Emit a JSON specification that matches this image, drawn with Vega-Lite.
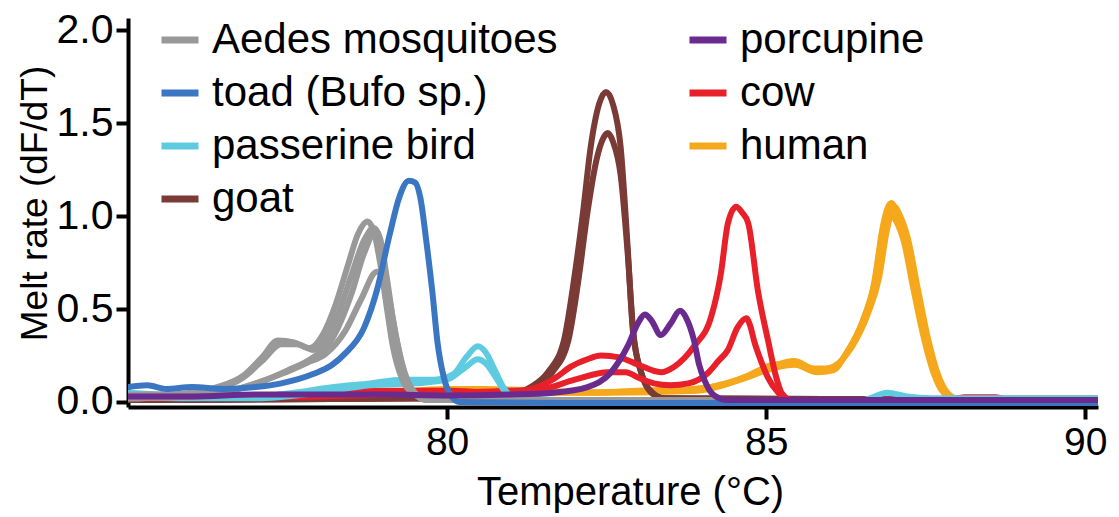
{
  "$schema": "https://vega.github.io/schema/vega-lite/v6.json",
  "width": 970,
  "height": 389,
  "autosize": {"type": "none"},
  "padding": {"left": 128, "top": 18, "right": 21, "bottom": 110},
  "background": "white",
  "config": {
    "view": {"stroke": null},
    "font": "Liberation Sans",
    "axis": {"labelFont": "Liberation Sans", "titleFont": "Liberation Sans", "labelColor": "black", "titleColor": "black", "titleFontWeight": "normal", "domainColor": "black", "tickColor": "black", "domainWidth": 4, "tickWidth": 4, "tickSize": 12, "grid": false},
    "legend": {"labelFont": "Liberation Sans"}
  },
  "data": {
    "values": [
      {"s":"human","r":"h1","t":75,"v":0.02},{"s":"human","r":"h1","t":77,"v":0.03},{"s":"human","r":"h1","t":79,"v":0.05},{"s":"human","r":"h1","t":80,"v":0.07},{"s":"human","r":"h1","t":80.6,"v":0.07},{"s":"human","r":"h1","t":81.5,"v":0.06},{"s":"human","r":"h1","t":82.3,"v":0.05},{"s":"human","r":"h1","t":83.35,"v":0.065},{"s":"human","r":"h1","t":83.85,"v":0.06},{"s":"human","r":"h1","t":84.25,"v":0.09},{"s":"human","r":"h1","t":84.65,"v":0.13},{"s":"human","r":"h1","t":85.08,"v":0.19},{"s":"human","r":"h1","t":85.44,"v":0.22},{"s":"human","r":"h1","t":85.75,"v":0.18},{"s":"human","r":"h1","t":86.02,"v":0.18},{"s":"human","r":"h1","t":86.29,"v":0.28},{"s":"human","r":"h1","t":86.54,"v":0.46},{"s":"human","r":"h1","t":86.7,"v":0.64},{"s":"human","r":"h1","t":86.81,"v":0.91},{"s":"human","r":"h1","t":86.96,"v":1.07},{"s":"human","r":"h1","t":87.05,"v":1.02},{"s":"human","r":"h1","t":87.17,"v":0.91},{"s":"human","r":"h1","t":87.32,"v":0.64},{"s":"human","r":"h1","t":87.48,"v":0.37},{"s":"human","r":"h1","t":87.64,"v":0.17},{"s":"human","r":"h1","t":87.79,"v":0.06},{"s":"human","r":"h1","t":87.95,"v":0.02},{"s":"human","r":"h1","t":90.2,"v":0.02},
      {"s":"human","r":"h2","t":75,"v":0.03},{"s":"human","r":"h2","t":78,"v":0.04},{"s":"human","r":"h2","t":80,"v":0.06},{"s":"human","r":"h2","t":81.5,"v":0.05},{"s":"human","r":"h2","t":83.4,"v":0.06},{"s":"human","r":"h2","t":84.3,"v":0.09},{"s":"human","r":"h2","t":84.7,"v":0.14},{"s":"human","r":"h2","t":85.1,"v":0.2},{"s":"human","r":"h2","t":85.46,"v":0.21},{"s":"human","r":"h2","t":85.8,"v":0.17},{"s":"human","r":"h2","t":86.05,"v":0.19},{"s":"human","r":"h2","t":86.35,"v":0.3},{"s":"human","r":"h2","t":86.6,"v":0.48},{"s":"human","r":"h2","t":86.77,"v":0.67},{"s":"human","r":"h2","t":86.89,"v":0.92},{"s":"human","r":"h2","t":87.01,"v":1.05},{"s":"human","r":"h2","t":87.1,"v":1.0},{"s":"human","r":"h2","t":87.22,"v":0.88},{"s":"human","r":"h2","t":87.37,"v":0.62},{"s":"human","r":"h2","t":87.53,"v":0.35},{"s":"human","r":"h2","t":87.69,"v":0.15},{"s":"human","r":"h2","t":87.84,"v":0.05},{"s":"human","r":"h2","t":88.0,"v":0.02},{"s":"human","r":"h2","t":90.2,"v":0.015},
      {"s":"human","r":"h3","t":75,"v":0.02},{"s":"human","r":"h3","t":80,"v":0.05},{"s":"human","r":"h3","t":82.5,"v":0.05},{"s":"human","r":"h3","t":83.9,"v":0.06},{"s":"human","r":"h3","t":84.6,"v":0.12},{"s":"human","r":"h3","t":85.1,"v":0.18},{"s":"human","r":"h3","t":85.45,"v":0.2},{"s":"human","r":"h3","t":85.8,"v":0.16},{"s":"human","r":"h3","t":86.05,"v":0.17},{"s":"human","r":"h3","t":86.27,"v":0.27},{"s":"human","r":"h3","t":86.52,"v":0.44},{"s":"human","r":"h3","t":86.68,"v":0.62},{"s":"human","r":"h3","t":86.8,"v":0.86},{"s":"human","r":"h3","t":86.94,"v":1.01},{"s":"human","r":"h3","t":87.04,"v":0.97},{"s":"human","r":"h3","t":87.16,"v":0.86},{"s":"human","r":"h3","t":87.3,"v":0.62},{"s":"human","r":"h3","t":87.46,"v":0.36},{"s":"human","r":"h3","t":87.62,"v":0.16},{"s":"human","r":"h3","t":87.78,"v":0.05},{"s":"human","r":"h3","t":87.95,"v":0.02},{"s":"human","r":"h3","t":90.2,"v":0.02},

      {"s":"goat","r":"gt1","t":75,"v":0.01},{"s":"goat","r":"gt1","t":80,"v":0.02},{"s":"goat","r":"gt1","t":81.0,"v":0.04},{"s":"goat","r":"gt1","t":81.31,"v":0.08},{"s":"goat","r":"gt1","t":81.58,"v":0.16},{"s":"goat","r":"gt1","t":81.83,"v":0.33},{"s":"goat","r":"gt1","t":81.99,"v":0.66},{"s":"goat","r":"gt1","t":82.13,"v":1.02},{"s":"goat","r":"gt1","t":82.25,"v":1.37},{"s":"goat","r":"gt1","t":82.38,"v":1.6},{"s":"goat","r":"gt1","t":82.49,"v":1.667},{"s":"goat","r":"gt1","t":82.6,"v":1.6},{"s":"goat","r":"gt1","t":82.72,"v":1.37},{"s":"goat","r":"gt1","t":82.83,"v":0.83},{"s":"goat","r":"gt1","t":82.91,"v":0.39},{"s":"goat","r":"gt1","t":83.04,"v":0.16},{"s":"goat","r":"gt1","t":83.2,"v":0.05},{"s":"goat","r":"gt1","t":83.4,"v":0.02},{"s":"goat","r":"gt1","t":90.2,"v":0.01},
      {"s":"goat","r":"gt2","t":75,"v":0.01},{"s":"goat","r":"gt2","t":80,"v":0.02},{"s":"goat","r":"gt2","t":81.1,"v":0.04},{"s":"goat","r":"gt2","t":81.4,"v":0.08},{"s":"goat","r":"gt2","t":81.65,"v":0.16},{"s":"goat","r":"gt2","t":81.9,"v":0.33},{"s":"goat","r":"gt2","t":82.06,"v":0.66},{"s":"goat","r":"gt2","t":82.2,"v":1.02},{"s":"goat","r":"gt2","t":82.34,"v":1.3},{"s":"goat","r":"gt2","t":82.45,"v":1.42},{"s":"goat","r":"gt2","t":82.52,"v":1.446},{"s":"goat","r":"gt2","t":82.6,"v":1.4},{"s":"goat","r":"gt2","t":82.72,"v":1.22},{"s":"goat","r":"gt2","t":82.83,"v":0.8},{"s":"goat","r":"gt2","t":82.92,"v":0.37},{"s":"goat","r":"gt2","t":83.05,"v":0.15},{"s":"goat","r":"gt2","t":83.22,"v":0.05},{"s":"goat","r":"gt2","t":83.4,"v":0.02},{"s":"goat","r":"gt2","t":90.2,"v":0.01},

      {"s":"cow","r":"c1","t":75,"v":0.02},{"s":"cow","r":"c1","t":76,"v":0.02},{"s":"cow","r":"c1","t":77,"v":0.03},{"s":"cow","r":"c1","t":78,"v":0.05},{"s":"cow","r":"c1","t":79,"v":0.06},{"s":"cow","r":"c1","t":80,"v":0.06},{"s":"cow","r":"c1","t":80.8,"v":0.05},{"s":"cow","r":"c1","t":81.2,"v":0.06},{"s":"cow","r":"c1","t":81.42,"v":0.08},{"s":"cow","r":"c1","t":81.7,"v":0.13},{"s":"cow","r":"c1","t":81.94,"v":0.19},{"s":"cow","r":"c1","t":82.2,"v":0.23},{"s":"cow","r":"c1","t":82.41,"v":0.25},{"s":"cow","r":"c1","t":82.7,"v":0.24},{"s":"cow","r":"c1","t":83.0,"v":0.2},{"s":"cow","r":"c1","t":83.35,"v":0.16},{"s":"cow","r":"c1","t":83.56,"v":0.19},{"s":"cow","r":"c1","t":83.87,"v":0.3},{"s":"cow","r":"c1","t":84.14,"v":0.46},{"s":"cow","r":"c1","t":84.29,"v":0.69},{"s":"cow","r":"c1","t":84.4,"v":0.96},{"s":"cow","r":"c1","t":84.53,"v":1.05},{"s":"cow","r":"c1","t":84.62,"v":1.02},{"s":"cow","r":"c1","t":84.72,"v":0.96},{"s":"cow","r":"c1","t":84.87,"v":0.6},{"s":"cow","r":"c1","t":85.03,"v":0.33},{"s":"cow","r":"c1","t":85.16,"v":0.13},{"s":"cow","r":"c1","t":85.24,"v":0.05},{"s":"cow","r":"c1","t":85.4,"v":0.01},{"s":"cow","r":"c1","t":87.9,"v":0.01},{"s":"cow","r":"c1","t":88.1,"v":0.025},{"s":"cow","r":"c1","t":88.6,"v":0.025},{"s":"cow","r":"c1","t":88.8,"v":0.01},{"s":"cow","r":"c1","t":90.2,"v":0.01},
      {"s":"cow","r":"c2","t":75,"v":0.02},{"s":"cow","r":"c2","t":78,"v":0.03},{"s":"cow","r":"c2","t":80,"v":0.05},{"s":"cow","r":"c2","t":81,"v":0.06},{"s":"cow","r":"c2","t":81.5,"v":0.07},{"s":"cow","r":"c2","t":82.0,"v":0.12},{"s":"cow","r":"c2","t":82.52,"v":0.16},{"s":"cow","r":"c2","t":82.8,"v":0.16},{"s":"cow","r":"c2","t":83.0,"v":0.13},{"s":"cow","r":"c2","t":83.24,"v":0.1},{"s":"cow","r":"c2","t":83.5,"v":0.09},{"s":"cow","r":"c2","t":83.78,"v":0.1},{"s":"cow","r":"c2","t":84.1,"v":0.16},{"s":"cow","r":"c2","t":84.25,"v":0.22},{"s":"cow","r":"c2","t":84.4,"v":0.28},{"s":"cow","r":"c2","t":84.55,"v":0.4},{"s":"cow","r":"c2","t":84.69,"v":0.45},{"s":"cow","r":"c2","t":84.75,"v":0.41},{"s":"cow","r":"c2","t":84.81,"v":0.33},{"s":"cow","r":"c2","t":84.92,"v":0.22},{"s":"cow","r":"c2","t":85.03,"v":0.13},{"s":"cow","r":"c2","t":85.19,"v":0.05},{"s":"cow","r":"c2","t":85.35,"v":0.01},{"s":"cow","r":"c2","t":90.2,"v":0.01},

      {"s":"passerine bird","r":"p1","t":75,"v":0.05},{"s":"passerine bird","r":"p1","t":75.5,"v":0.04},{"s":"passerine bird","r":"p1","t":76,"v":0.03},{"s":"passerine bird","r":"p1","t":77,"v":0.03},{"s":"passerine bird","r":"p1","t":77.6,"v":0.05},{"s":"passerine bird","r":"p1","t":78.2,"v":0.08},{"s":"passerine bird","r":"p1","t":78.8,"v":0.1},{"s":"passerine bird","r":"p1","t":79.3,"v":0.12},{"s":"passerine bird","r":"p1","t":79.8,"v":0.12},{"s":"passerine bird","r":"p1","t":80.1,"v":0.15},{"s":"passerine bird","r":"p1","t":80.3,"v":0.24},{"s":"passerine bird","r":"p1","t":80.48,"v":0.3},{"s":"passerine bird","r":"p1","t":80.6,"v":0.27},{"s":"passerine bird","r":"p1","t":80.75,"v":0.17},{"s":"passerine bird","r":"p1","t":80.9,"v":0.07},{"s":"passerine bird","r":"p1","t":81.05,"v":0.02},{"s":"passerine bird","r":"p1","t":81.5,"v":0.01},{"s":"passerine bird","r":"p1","t":86.5,"v":0.01},{"s":"passerine bird","r":"p1","t":86.9,"v":0.05},{"s":"passerine bird","r":"p1","t":87.2,"v":0.03},{"s":"passerine bird","r":"p1","t":87.6,"v":0.02},{"s":"passerine bird","r":"p1","t":90.2,"v":0.02},
      {"s":"passerine bird","r":"p2","t":75,"v":0.03},{"s":"passerine bird","r":"p2","t":76,"v":0.02},{"s":"passerine bird","r":"p2","t":77,"v":0.02},{"s":"passerine bird","r":"p2","t":78,"v":0.05},{"s":"passerine bird","r":"p2","t":78.8,"v":0.09},{"s":"passerine bird","r":"p2","t":79.5,"v":0.1},{"s":"passerine bird","r":"p2","t":80.0,"v":0.12},{"s":"passerine bird","r":"p2","t":80.3,"v":0.19},{"s":"passerine bird","r":"p2","t":80.48,"v":0.23},{"s":"passerine bird","r":"p2","t":80.6,"v":0.21},{"s":"passerine bird","r":"p2","t":80.75,"v":0.14},{"s":"passerine bird","r":"p2","t":80.9,"v":0.06},{"s":"passerine bird","r":"p2","t":81.05,"v":0.02},{"s":"passerine bird","r":"p2","t":82,"v":0.01},{"s":"passerine bird","r":"p2","t":90.2,"v":0.01},

      {"s":"Aedes mosquitoes","r":"g1","t":75,"v":0.04},{"s":"Aedes mosquitoes","r":"g1","t":75.5,"v":0.04},{"s":"Aedes mosquitoes","r":"g1","t":76,"v":0.05},{"s":"Aedes mosquitoes","r":"g1","t":76.4,"v":0.08},{"s":"Aedes mosquitoes","r":"g1","t":76.8,"v":0.14},{"s":"Aedes mosquitoes","r":"g1","t":77.1,"v":0.24},{"s":"Aedes mosquitoes","r":"g1","t":77.35,"v":0.33},{"s":"Aedes mosquitoes","r":"g1","t":77.6,"v":0.32},{"s":"Aedes mosquitoes","r":"g1","t":77.85,"v":0.29},{"s":"Aedes mosquitoes","r":"g1","t":78.05,"v":0.36},{"s":"Aedes mosquitoes","r":"g1","t":78.25,"v":0.52},{"s":"Aedes mosquitoes","r":"g1","t":78.45,"v":0.74},{"s":"Aedes mosquitoes","r":"g1","t":78.6,"v":0.9},{"s":"Aedes mosquitoes","r":"g1","t":78.75,"v":0.97},{"s":"Aedes mosquitoes","r":"g1","t":78.85,"v":0.92},{"s":"Aedes mosquitoes","r":"g1","t":78.95,"v":0.75},{"s":"Aedes mosquitoes","r":"g1","t":79.05,"v":0.52},{"s":"Aedes mosquitoes","r":"g1","t":79.15,"v":0.3},{"s":"Aedes mosquitoes","r":"g1","t":79.3,"v":0.12},{"s":"Aedes mosquitoes","r":"g1","t":79.45,"v":0.05},{"s":"Aedes mosquitoes","r":"g1","t":79.7,"v":0.02},{"s":"Aedes mosquitoes","r":"g1","t":81,"v":0.01},{"s":"Aedes mosquitoes","r":"g1","t":90.2,"v":0.01},
      {"s":"Aedes mosquitoes","r":"g2","t":75,"v":0.02},{"s":"Aedes mosquitoes","r":"g2","t":75.8,"v":0.03},{"s":"Aedes mosquitoes","r":"g2","t":76.3,"v":0.06},{"s":"Aedes mosquitoes","r":"g2","t":76.8,"v":0.13},{"s":"Aedes mosquitoes","r":"g2","t":77.1,"v":0.22},{"s":"Aedes mosquitoes","r":"g2","t":77.4,"v":0.31},{"s":"Aedes mosquitoes","r":"g2","t":77.65,"v":0.31},{"s":"Aedes mosquitoes","r":"g2","t":77.9,"v":0.28},{"s":"Aedes mosquitoes","r":"g2","t":78.1,"v":0.34},{"s":"Aedes mosquitoes","r":"g2","t":78.3,"v":0.48},{"s":"Aedes mosquitoes","r":"g2","t":78.5,"v":0.68},{"s":"Aedes mosquitoes","r":"g2","t":78.7,"v":0.87},{"s":"Aedes mosquitoes","r":"g2","t":78.85,"v":0.935},{"s":"Aedes mosquitoes","r":"g2","t":78.95,"v":0.88},{"s":"Aedes mosquitoes","r":"g2","t":79.05,"v":0.68},{"s":"Aedes mosquitoes","r":"g2","t":79.15,"v":0.45},{"s":"Aedes mosquitoes","r":"g2","t":79.3,"v":0.2},{"s":"Aedes mosquitoes","r":"g2","t":79.45,"v":0.07},{"s":"Aedes mosquitoes","r":"g2","t":79.65,"v":0.02},{"s":"Aedes mosquitoes","r":"g2","t":81,"v":0.01},{"s":"Aedes mosquitoes","r":"g2","t":90.2,"v":0.01},
      {"s":"Aedes mosquitoes","r":"g3","t":75,"v":0.02},{"s":"Aedes mosquitoes","r":"g3","t":76,"v":0.03},{"s":"Aedes mosquitoes","r":"g3","t":76.5,"v":0.05},{"s":"Aedes mosquitoes","r":"g3","t":77.0,"v":0.1},{"s":"Aedes mosquitoes","r":"g3","t":77.4,"v":0.15},{"s":"Aedes mosquitoes","r":"g3","t":77.8,"v":0.21},{"s":"Aedes mosquitoes","r":"g3","t":78.1,"v":0.26},{"s":"Aedes mosquitoes","r":"g3","t":78.4,"v":0.38},{"s":"Aedes mosquitoes","r":"g3","t":78.65,"v":0.55},{"s":"Aedes mosquitoes","r":"g3","t":78.9,"v":0.7},{"s":"Aedes mosquitoes","r":"g3","t":79.0,"v":0.66},{"s":"Aedes mosquitoes","r":"g3","t":79.1,"v":0.5},{"s":"Aedes mosquitoes","r":"g3","t":79.2,"v":0.3},{"s":"Aedes mosquitoes","r":"g3","t":79.35,"v":0.12},{"s":"Aedes mosquitoes","r":"g3","t":79.5,"v":0.04},{"s":"Aedes mosquitoes","r":"g3","t":79.7,"v":0.01},{"s":"Aedes mosquitoes","r":"g3","t":90.2,"v":0.01},
      {"s":"Aedes mosquitoes","r":"g4","t":75,"v":0.02},{"s":"Aedes mosquitoes","r":"g4","t":76,"v":0.03},{"s":"Aedes mosquitoes","r":"g4","t":76.6,"v":0.06},{"s":"Aedes mosquitoes","r":"g4","t":77.1,"v":0.11},{"s":"Aedes mosquitoes","r":"g4","t":77.5,"v":0.17},{"s":"Aedes mosquitoes","r":"g4","t":77.9,"v":0.24},{"s":"Aedes mosquitoes","r":"g4","t":78.2,"v":0.34},{"s":"Aedes mosquitoes","r":"g4","t":78.5,"v":0.58},{"s":"Aedes mosquitoes","r":"g4","t":78.7,"v":0.8},{"s":"Aedes mosquitoes","r":"g4","t":78.85,"v":0.9},{"s":"Aedes mosquitoes","r":"g4","t":78.95,"v":0.85},{"s":"Aedes mosquitoes","r":"g4","t":79.05,"v":0.65},{"s":"Aedes mosquitoes","r":"g4","t":79.2,"v":0.35},{"s":"Aedes mosquitoes","r":"g4","t":79.35,"v":0.13},{"s":"Aedes mosquitoes","r":"g4","t":79.5,"v":0.04},{"s":"Aedes mosquitoes","r":"g4","t":79.7,"v":0.01},{"s":"Aedes mosquitoes","r":"g4","t":90.2,"v":0.01},

      {"s":"toad (Bufo sp.)","r":"b1","t":75,"v":0.08},{"s":"toad (Bufo sp.)","r":"b1","t":75.3,"v":0.09},{"s":"toad (Bufo sp.)","r":"b1","t":75.6,"v":0.07},{"s":"toad (Bufo sp.)","r":"b1","t":76,"v":0.08},{"s":"toad (Bufo sp.)","r":"b1","t":76.5,"v":0.07},{"s":"toad (Bufo sp.)","r":"b1","t":77,"v":0.08},{"s":"toad (Bufo sp.)","r":"b1","t":77.4,"v":0.1},{"s":"toad (Bufo sp.)","r":"b1","t":77.9,"v":0.15},{"s":"toad (Bufo sp.)","r":"b1","t":78.2,"v":0.2},{"s":"toad (Bufo sp.)","r":"b1","t":78.4,"v":0.26},{"s":"toad (Bufo sp.)","r":"b1","t":78.7,"v":0.4},{"s":"toad (Bufo sp.)","r":"b1","t":78.9,"v":0.6},{"s":"toad (Bufo sp.)","r":"b1","t":79.1,"v":0.9},{"s":"toad (Bufo sp.)","r":"b1","t":79.25,"v":1.1},{"s":"toad (Bufo sp.)","r":"b1","t":79.4,"v":1.19},{"s":"toad (Bufo sp.)","r":"b1","t":79.5,"v":1.18},{"s":"toad (Bufo sp.)","r":"b1","t":79.58,"v":1.1},{"s":"toad (Bufo sp.)","r":"b1","t":79.68,"v":0.85},{"s":"toad (Bufo sp.)","r":"b1","t":79.77,"v":0.59},{"s":"toad (Bufo sp.)","r":"b1","t":79.85,"v":0.32},{"s":"toad (Bufo sp.)","r":"b1","t":79.95,"v":0.13},{"s":"toad (Bufo sp.)","r":"b1","t":80.05,"v":0.04},{"s":"toad (Bufo sp.)","r":"b1","t":80.2,"v":0.0},{"s":"toad (Bufo sp.)","r":"b1","t":82,"v":-0.005},{"s":"toad (Bufo sp.)","r":"b1","t":90.2,"v":-0.005},

      {"s":"porcupine","r":"pc1","t":75,"v":0.03},{"s":"porcupine","r":"pc1","t":76,"v":0.03},{"s":"porcupine","r":"pc1","t":77,"v":0.04},{"s":"porcupine","r":"pc1","t":78,"v":0.04},{"s":"porcupine","r":"pc1","t":79,"v":0.04},{"s":"porcupine","r":"pc1","t":80,"v":0.035},{"s":"porcupine","r":"pc1","t":81,"v":0.04},{"s":"porcupine","r":"pc1","t":81.67,"v":0.05},{"s":"porcupine","r":"pc1","t":82.2,"v":0.08},{"s":"porcupine","r":"pc1","t":82.57,"v":0.16},{"s":"porcupine","r":"pc1","t":82.83,"v":0.3},{"s":"porcupine","r":"pc1","t":83.0,"v":0.43},{"s":"porcupine","r":"pc1","t":83.1,"v":0.47},{"s":"porcupine","r":"pc1","t":83.2,"v":0.44},{"s":"porcupine","r":"pc1","t":83.35,"v":0.36},{"s":"porcupine","r":"pc1","t":83.5,"v":0.42},{"s":"porcupine","r":"pc1","t":83.65,"v":0.49},{"s":"porcupine","r":"pc1","t":83.75,"v":0.45},{"s":"porcupine","r":"pc1","t":83.87,"v":0.33},{"s":"porcupine","r":"pc1","t":83.95,"v":0.2},{"s":"porcupine","r":"pc1","t":84.03,"v":0.12},{"s":"porcupine","r":"pc1","t":84.17,"v":0.04},{"s":"porcupine","r":"pc1","t":84.4,"v":0.01},{"s":"porcupine","r":"pc1","t":90.2,"v":0.01}
    ]
  },
  "mark": {"type": "line", "strokeWidth": 6, "strokeCap": "round", "strokeJoin": "round", "interpolate": "monotone", "clip": true},
  "encoding": {
    "x": {"field": "t", "type": "quantitative", "scale": {"domain": [75, 90.2], "nice": false, "zero": false},
      "axis": {"values": [80, 85, 90], "title": "Temperature (°C)", "labelFontSize": 39, "titleFontSize": 40, "labelPadding": 4, "titlePadding": 10, "titleX": 502}},
    "y": {"field": "v", "type": "quantitative", "scale": {"domain": [-0.027, 2.065], "nice": false, "zero": false},
      "axis": {"values": [0, 0.5, 1, 1.5, 2], "format": ".1f", "title": "Melt rate (dF/dT)", "labelFontSize": 41, "titleFontSize": 37, "labelPadding": 3, "titlePadding": 2, "titleY": 185}},
    "color": {"field": "s", "type": "nominal",
      "scale": {"domain": ["Aedes mosquitoes", "toad (Bufo sp.)", "passerine bird", "goat", "porcupine", "cow", "human"],
        "range": ["#999999", "#3b76c3", "#5ecbe0", "#7a3a36", "#6b2b8e", "#e8202a", "#f6a81c"]},
      "legend": {"title": null, "orient": "none", "legendX": 30, "legendY": 0, "columns": 2, "columnPadding": 117, "rowPadding": 10, "labelFontSize": 42, "labelLimit": 600, "labelOffset": 10, "symbolType": "stroke", "symbolSize": 1369, "symbolStrokeWidth": 7, "labelColor": "black", "padding": 0, "gridAlign": "each"}},
    "detail": {"field": "r", "type": "nominal"}
  }
}
